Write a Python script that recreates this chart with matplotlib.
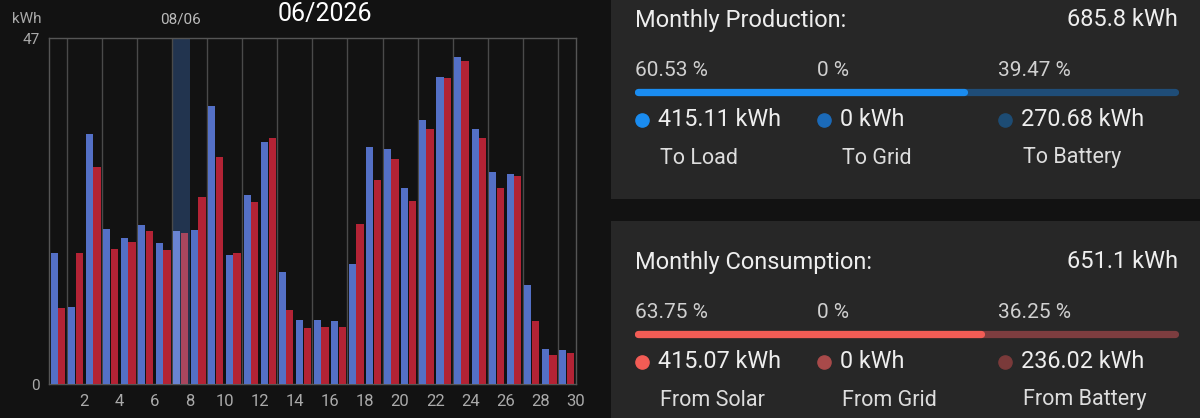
import matplotlib
matplotlib.use("Agg")
import matplotlib.pyplot as plt
from matplotlib.lines import Line2D
from matplotlib.patches import Rectangle

plt.rcParams['font.family'] = ['Roboto', 'DejaVu Sans']

# daily values (kWh)
days = list(range(1, 31))
production = [17.9, 10.5, 34.0, 21.1, 19.9, 21.7, 19.2, 20.8, 21.0, 37.8,
              17.5, 25.7, 32.9, 15.2, 8.7, 8.7, 8.6, 16.4, 32.3, 32.0,
              26.6, 35.9, 41.8, 44.5, 34.7, 28.8, 28.6, 13.5, 4.8, 4.7]
consumption = [10.3, 17.8, 29.5, 18.4, 19.3, 20.8, 18.3, 20.6, 25.4, 30.9,
               17.9, 24.8, 33.5, 10.1, 7.7, 7.8, 7.8, 21.8, 27.7, 30.6,
               24.9, 34.7, 41.6, 43.9, 33.4, 26.6, 28.3, 8.6, 4.0, 4.2]
selected_day = 8
y_max = 47

# monthly summary
prod_labels = ["To Load", "To Grid", "To Battery"]
prod_kwh = [415.11, 0, 270.68]
prod_pct = [60.53, 0, 39.47]
cons_labels = ["From Solar", "From Grid", "From Battery"]
cons_kwh = [415.07, 0, 236.02]
cons_pct = [63.75, 0, 36.25]

W, H = 1200, 418
BG = '#121212'
PANEL = '#272727'

fig = plt.figure(figsize=(W / 100, H / 100), dpi=100, facecolor=BG)


def fx(x):
    return x / W


def fy(y):
    return 1 - y / H


# ---- bar chart ----
left, right, top, bottom = 49.3, 575.5, 38.3, 384.3
ax = fig.add_axes([fx(left), fy(bottom), fx(right - left), (bottom - top) / H])
ax.set_facecolor(BG)

blue, red = '#5470c6', '#b32335'
blue_hl, red_hl = '#6a84d2', '#a8465e'
bcols = [blue_hl if d == selected_day else blue for d in days]
rcols = [red_hl if d == selected_day else red for d in days]
ax.bar([d - 1 + 0.275 for d in days], production, width=0.4, color=bcols, zorder=3)
ax.bar([d - 1 + 0.71 for d in days], consumption, width=0.42, color=rcols, zorder=3)
ax.axvspan(selected_day - 1, selected_day, color='#22344f', zorder=1, lw=0)

for g in range(1, 30, 2):
    ax.axvline(g, color='#4a4a4a', lw=1, zorder=2)

ax.set_xlim(0, 30)
ax.set_ylim(0, y_max)
ax.set_xticks(range(2, 31, 2))
ax.set_xticklabels([str(v) for v in range(2, 31, 2)])
ax.set_yticks([0, y_max])
ax.tick_params(axis='x', length=0, pad=7, colors='#aaaaaa', labelsize=12)
ax.tick_params(axis='y', length=0, pad=7, colors='#aaaaaa', labelsize=11)
for s in ax.spines.values():
    s.set_color('#555555')
    s.set_linewidth(1)

fig.text(fx(27), fy(19), "kWh", color='#aaaaaa', fontsize=11, ha='center', va='center')
fig.text(fx(180.8), fy(19), "%02d/06" % selected_day, color='#bbbbbb', fontsize=11,
         ha='center', va='center')
fig.text(fx(325), fy(14), "06/2026", color='white', fontsize=18, ha='center', va='center')


# ---- summary panels ----
def panel(p0, p1, y0, title, labels, kwh, pct, col_fill, col_rest, dot_cols):
    fig.add_artist(Rectangle((fx(611), fy(p1)), fx(W - 611), (p1 - p0) / H,
                             transform=fig.transFigure, color=PANEL, lw=0))
    x0, x1 = 635, 1178
    cols = [635, 817, 998]
    fig.text(fx(x0), fy(y0 + 20), title, color='#eeeeee', fontsize=17, va='center')
    fig.text(fx(x1), fy(y0 + 20), "%.1f kWh" % sum(kwh), color='#eeeeee',
             fontsize=17, va='center', ha='right')
    for c, p in zip(cols, pct):
        fig.text(fx(c), fy(y0 + 70), "%g %%" % p, color='#d0d0d0', fontsize=15, va='center')
    yb = fy(y0 + 92)
    fig.add_artist(Line2D([fx(x0 + 3), fx(x1 - 3)], [yb, yb], color=col_rest, lw=5.2,
                          solid_capstyle='round', transform=fig.transFigure))
    xe = x0 + (x1 - x0) * pct[0] / 100
    fig.add_artist(Line2D([fx(x0 + 3), fx(xe)], [yb, yb], color=col_fill, lw=5.2,
                          solid_capstyle='round', transform=fig.transFigure))
    for c, v, lab, dc in zip(cols, kwh, labels, dot_cols):
        fig.add_artist(Line2D([fx(c + 6.5)], [fy(y0 + 120)], marker='o', ms=9.5,
                              color=dc, lw=0, transform=fig.transFigure))
        fig.text(fx(c + 23), fy(y0 + 120), "%g kWh" % v, color='#eeeeee',
                 fontsize=16.8, va='center')
        fig.text(fx(c + 25), fy(y0 + 158), lab, color='#dddddd', fontsize=15.5, va='center')


panel(-20, 199, 0, "Monthly Production:", prod_labels, prod_kwh, prod_pct,
      '#1a8cf0', '#1f4d78', ['#1a8cf0', '#1b6ab8', '#1d4c74'])
panel(221, 440, 242, "Monthly Consumption:", cons_labels, cons_kwh, cons_pct,
      '#f25c55', '#7d3d3f', ['#f25c55', '#a84a4a', '#7a3a3a'])

fig.savefig("out.png", dpi=100, facecolor=BG)
